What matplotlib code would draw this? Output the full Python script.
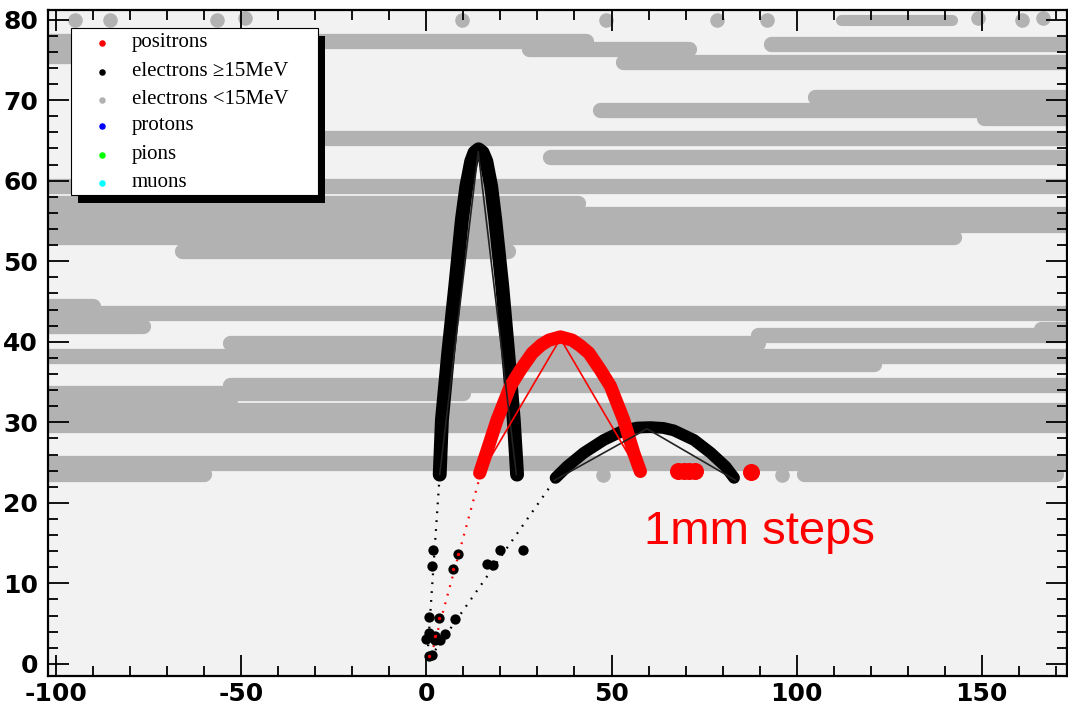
import matplotlib
matplotlib.use("Agg")
import matplotlib.pyplot as plt
from matplotlib.patches import Rectangle
from matplotlib.ticker import MultipleLocator

plt.rcParams['axes.unicode_minus'] = False

# ---------------- data ----------------
# low-energy electron tracks (y, x_start, x_end)
track_y  = [77.3, 76.4, 77.0, 74.8, 75.5, 70.4, 68.8, 67.8, 65.3, 63.0, 59.4, 57.2,
            55.9, 54.5, 53.0, 51.3, 44.5, 43.6, 42.0, 39.8, 40.8, 41.6, 38.2, 37.3,
            33.6, 32.8, 34.6, 33.6, 31.5, 29.7, 24.9, 23.6, 23.6]
track_x0 = [-102, 27.6, 93, 53, -102, 105, 47, 150.6, -28, 33.5, -102, -102,
            -102, -102, -102, -66, -102, -102, -102, -53, 89.5, 166, -102, 25,
            -102, -102, -53, -53, -102, -102, -102, -102, 102]
track_x1 = [43, 71, 173, 173, -90, 173, 173, 173, 173, 173, 173, 41,
            173, 173, 142.5, 22, -90, 173, -76.5, 89.5, 173, 173, 173, 120.8,
            -53, -53, 173, 10, 173, 173, 173, -60, 170]
# isolated low-energy electron hits
lowe_x = [-94.9, -85.4, -56.5, -49, 9.7, 48.4, 78.6, 92, 149, 161, 166.5, 47.6, 96]
lowe_y = [80.0, 80.0, 80.0, 80.2, 80.0, 80.0, 80.0, 80.0, 80.2, 80.0, 80.2, 23.4, 23.4]
top_row_x = [112, 142]
top_row_y = [80.0, 80.0]

# high-energy electron arcs
tall_x = [3.6, 4.2, 5.9, 7.8, 9.6, 10.8, 12.1, 13.0, 14.1, 15.2, 16.2, 17.5, 18.6, 20.5, 22.1, 23.6, 24.5]
tall_y = [23.5, 30.3, 38.6, 46.9, 55.2, 59.3, 62.4, 63.5, 63.9, 63.5, 62.4, 59.3, 55.2, 46.9, 38.6, 30.3, 23.5]
low_x = [34.9, 38.0, 42.5, 47.9, 53.3, 57.0, 60.5, 64.0, 66.8, 72.3, 76.8, 80.8, 83.1]
low_y = [23.1, 24.5, 26.2, 27.8, 29.0, 29.35, 29.4, 29.3, 29.0, 27.8, 26.2, 24.5, 23.1]
# positron arc
red_x = [14.4, 16.2, 19.1, 22.7, 25.4, 28.6, 31.0, 33.1, 36.2, 39.4, 41.6, 43.9, 47.0, 49.7, 53.3, 56.0, 57.8]
red_y = [23.7, 26.2, 30.3, 34.5, 36.5, 38.6, 39.6, 40.2, 40.6, 40.2, 39.5, 38.6, 36.5, 34.5, 30.3, 26.2, 23.9]
red_extra_x = [68.0, 69.5, 71.0, 72.5, 87.6]
red_extra_y = [23.9, 23.9, 23.9, 23.9, 23.8]

# straight chords (1mm steps)
tall_chord_x = [3.6, 14.0, 24.3]
tall_chord_y = [23.5, 63.6, 23.5]
red_chord_x = [14.6, 36.2, 58.0]
red_chord_y = [23.5, 40.4, 23.3]
low_chord_x = [34.6, 59.6, 83.5]
low_chord_y = [22.8, 29.2, 22.8]

# dotted approach lines from origin
tall_dot_x = [0.3, 3.6]
tall_dot_y = [1.1, 23.5]
red_dot_x = [1.9, 14.6]
red_dot_y = [2.1, 23.5]
low_dot_x = [2.4, 34.6]
low_dot_y = [1.7, 22.8]

# hits near the vertex
vtx_x = [1.9, 1.6, 8.6, 7.1, 20.0, 26.0, 16.5, 18.0, 0.8, 3.5, 7.8, 0.6, 0.0, 2.2, 2.2, 3.8, 5.1, 0.8, 1.5]
vtx_y = [14.2, 12.2, 13.7, 11.8, 14.2, 14.2, 12.4, 12.3, 5.8, 5.7, 5.6, 3.8, 3.1, 3.5, 3.0, 3.0, 3.7, 1.0, 1.1]
vtx_red_x = [8.6, 7.1, 3.5, 2.2, 0.8]
vtx_red_y = [13.7, 11.8, 5.7, 3.5, 1.0]

legend_labels = ["positrons", "electrons \u226515MeV", "electrons <15MeV", "protons", "pions", "muons"]
legend_colors = ["#ff0000", "#000000", "#b2b2b2", "#0000ff", "#00ff00", "#00ffff"]

x_ticks = [-100, -50, 0, 50, 100, 150]
y_ticks = [0, 10, 20, 30, 40, 50, 60, 70, 80]

# ---------------- figure ----------------
GRAY = "#b2b2b2"
RED = "#ff0000"
fig = plt.figure(figsize=(10.68, 7.12), dpi=100)
ax = fig.add_axes([0.0449, 0.0506, 0.9541, 0.9354])
ax.set_facecolor("#f2f2f2")
ax.set_xlim(-102.2, 173.0)
ax.set_ylim(-1.5, 81.2)

for y, a, b in zip(track_y, track_x0, track_x1):
    ax.plot([a, b], [y, y], color=GRAY, lw=11, solid_capstyle="round", zorder=1)
ax.scatter(lowe_x, lowe_y, s=110, color=GRAY, lw=0, zorder=1)
ax.plot(top_row_x, top_row_y, color=GRAY, lw=8, solid_capstyle="round", zorder=1)

# dotted lines
ax.plot(tall_dot_x, tall_dot_y, color="black", lw=1.6, ls=(0, (0.8, 3.2)), zorder=3)
ax.plot(low_dot_x, low_dot_y, color="black", lw=1.6, ls=(0, (0.8, 3.2)), zorder=3)
ax.plot(red_dot_x, red_dot_y, color=RED, lw=1.6, ls=(0, (0.8, 3.2)), zorder=3)

# arcs
ax.plot(tall_x, tall_y, color="black", lw=10, solid_capstyle="round", solid_joinstyle="round", zorder=4)
ax.plot(low_x, low_y, color="black", lw=8.5, solid_capstyle="round", solid_joinstyle="round", zorder=4)
ax.plot(red_x, red_y, color=RED, lw=9.5, solid_capstyle="round", solid_joinstyle="round", zorder=5)
ax.scatter(red_extra_x, red_extra_y, s=150, color=RED, lw=0, zorder=5)

ax.plot(tall_chord_x, tall_chord_y, color="#222222", lw=1.2, zorder=6)
ax.plot(low_chord_x, low_chord_y, color="#222222", lw=1.2, zorder=6)
ax.plot(red_chord_x, red_chord_y, color=RED, lw=1.2, zorder=6)

ax.scatter(vtx_x, vtx_y, s=55, color="black", lw=0, zorder=7)
ax.scatter(vtx_red_x, vtx_red_y, s=6, color=RED, lw=0, zorder=8)

ax.text(90, 16.4, "1mm steps", color=RED, fontsize=34, family=["Liberation Sans", "DejaVu Sans"],
        ha="center", va="center", zorder=9)

# legend (drawn manually, ROOT style)
def fx(px):
    return (px - 48) / 1018.0
def fy(py):
    return (676 - py) / 666.0

ax.add_patch(Rectangle((fx(78), fy(203)), fx(325) - fx(78), fy(36) - fy(203),
                       transform=ax.transAxes, facecolor="black", edgecolor="none", zorder=10))
ax.add_patch(Rectangle((fx(71), fy(195)), fx(318) - fx(71), fy(28) - fy(195),
                       transform=ax.transAxes, facecolor="white", edgecolor="black", lw=0.8, zorder=11))
row_py = [43, 72, 100, 126, 155, 183]
for lab, col, py in zip(legend_labels, legend_colors, row_py):
    ax.scatter([fx(102)], [fy(py)], s=22, color=col, lw=0, transform=ax.transAxes, zorder=12, clip_on=False)
    ax.text(fx(132), fy(py), lab, transform=ax.transAxes, fontsize=15,
            family=["Liberation Serif", "DejaVu Serif"], va="center", ha="left", zorder=12)

# axes styling
ax.xaxis.set_minor_locator(MultipleLocator(10))
ax.yaxis.set_minor_locator(MultipleLocator(2))
ax.set_xticks(x_ticks)
ax.set_yticks(y_ticks)
ax.set_xticklabels([str(v) for v in x_ticks])
ax.set_yticklabels([str(v) for v in y_ticks])
ax.tick_params(which="both", direction="in", top=True, right=True, colors="black", width=1.3)
ax.tick_params(which="major", length=15)
ax.tick_params(which="minor", length=7.5)
ax.tick_params(axis="x", which="major", pad=4)
ax.tick_params(axis="y", which="major", pad=7)
for lab in ax.get_xticklabels() + ax.get_yticklabels():
    lab.set_fontweight("bold")
    lab.set_fontsize(18)
    lab.set_family("DejaVu Sans")
for s in ax.spines.values():
    s.set_linewidth(1.6)
    s.set_zorder(20)

fig.savefig("out.png", dpi=100, facecolor="white")
